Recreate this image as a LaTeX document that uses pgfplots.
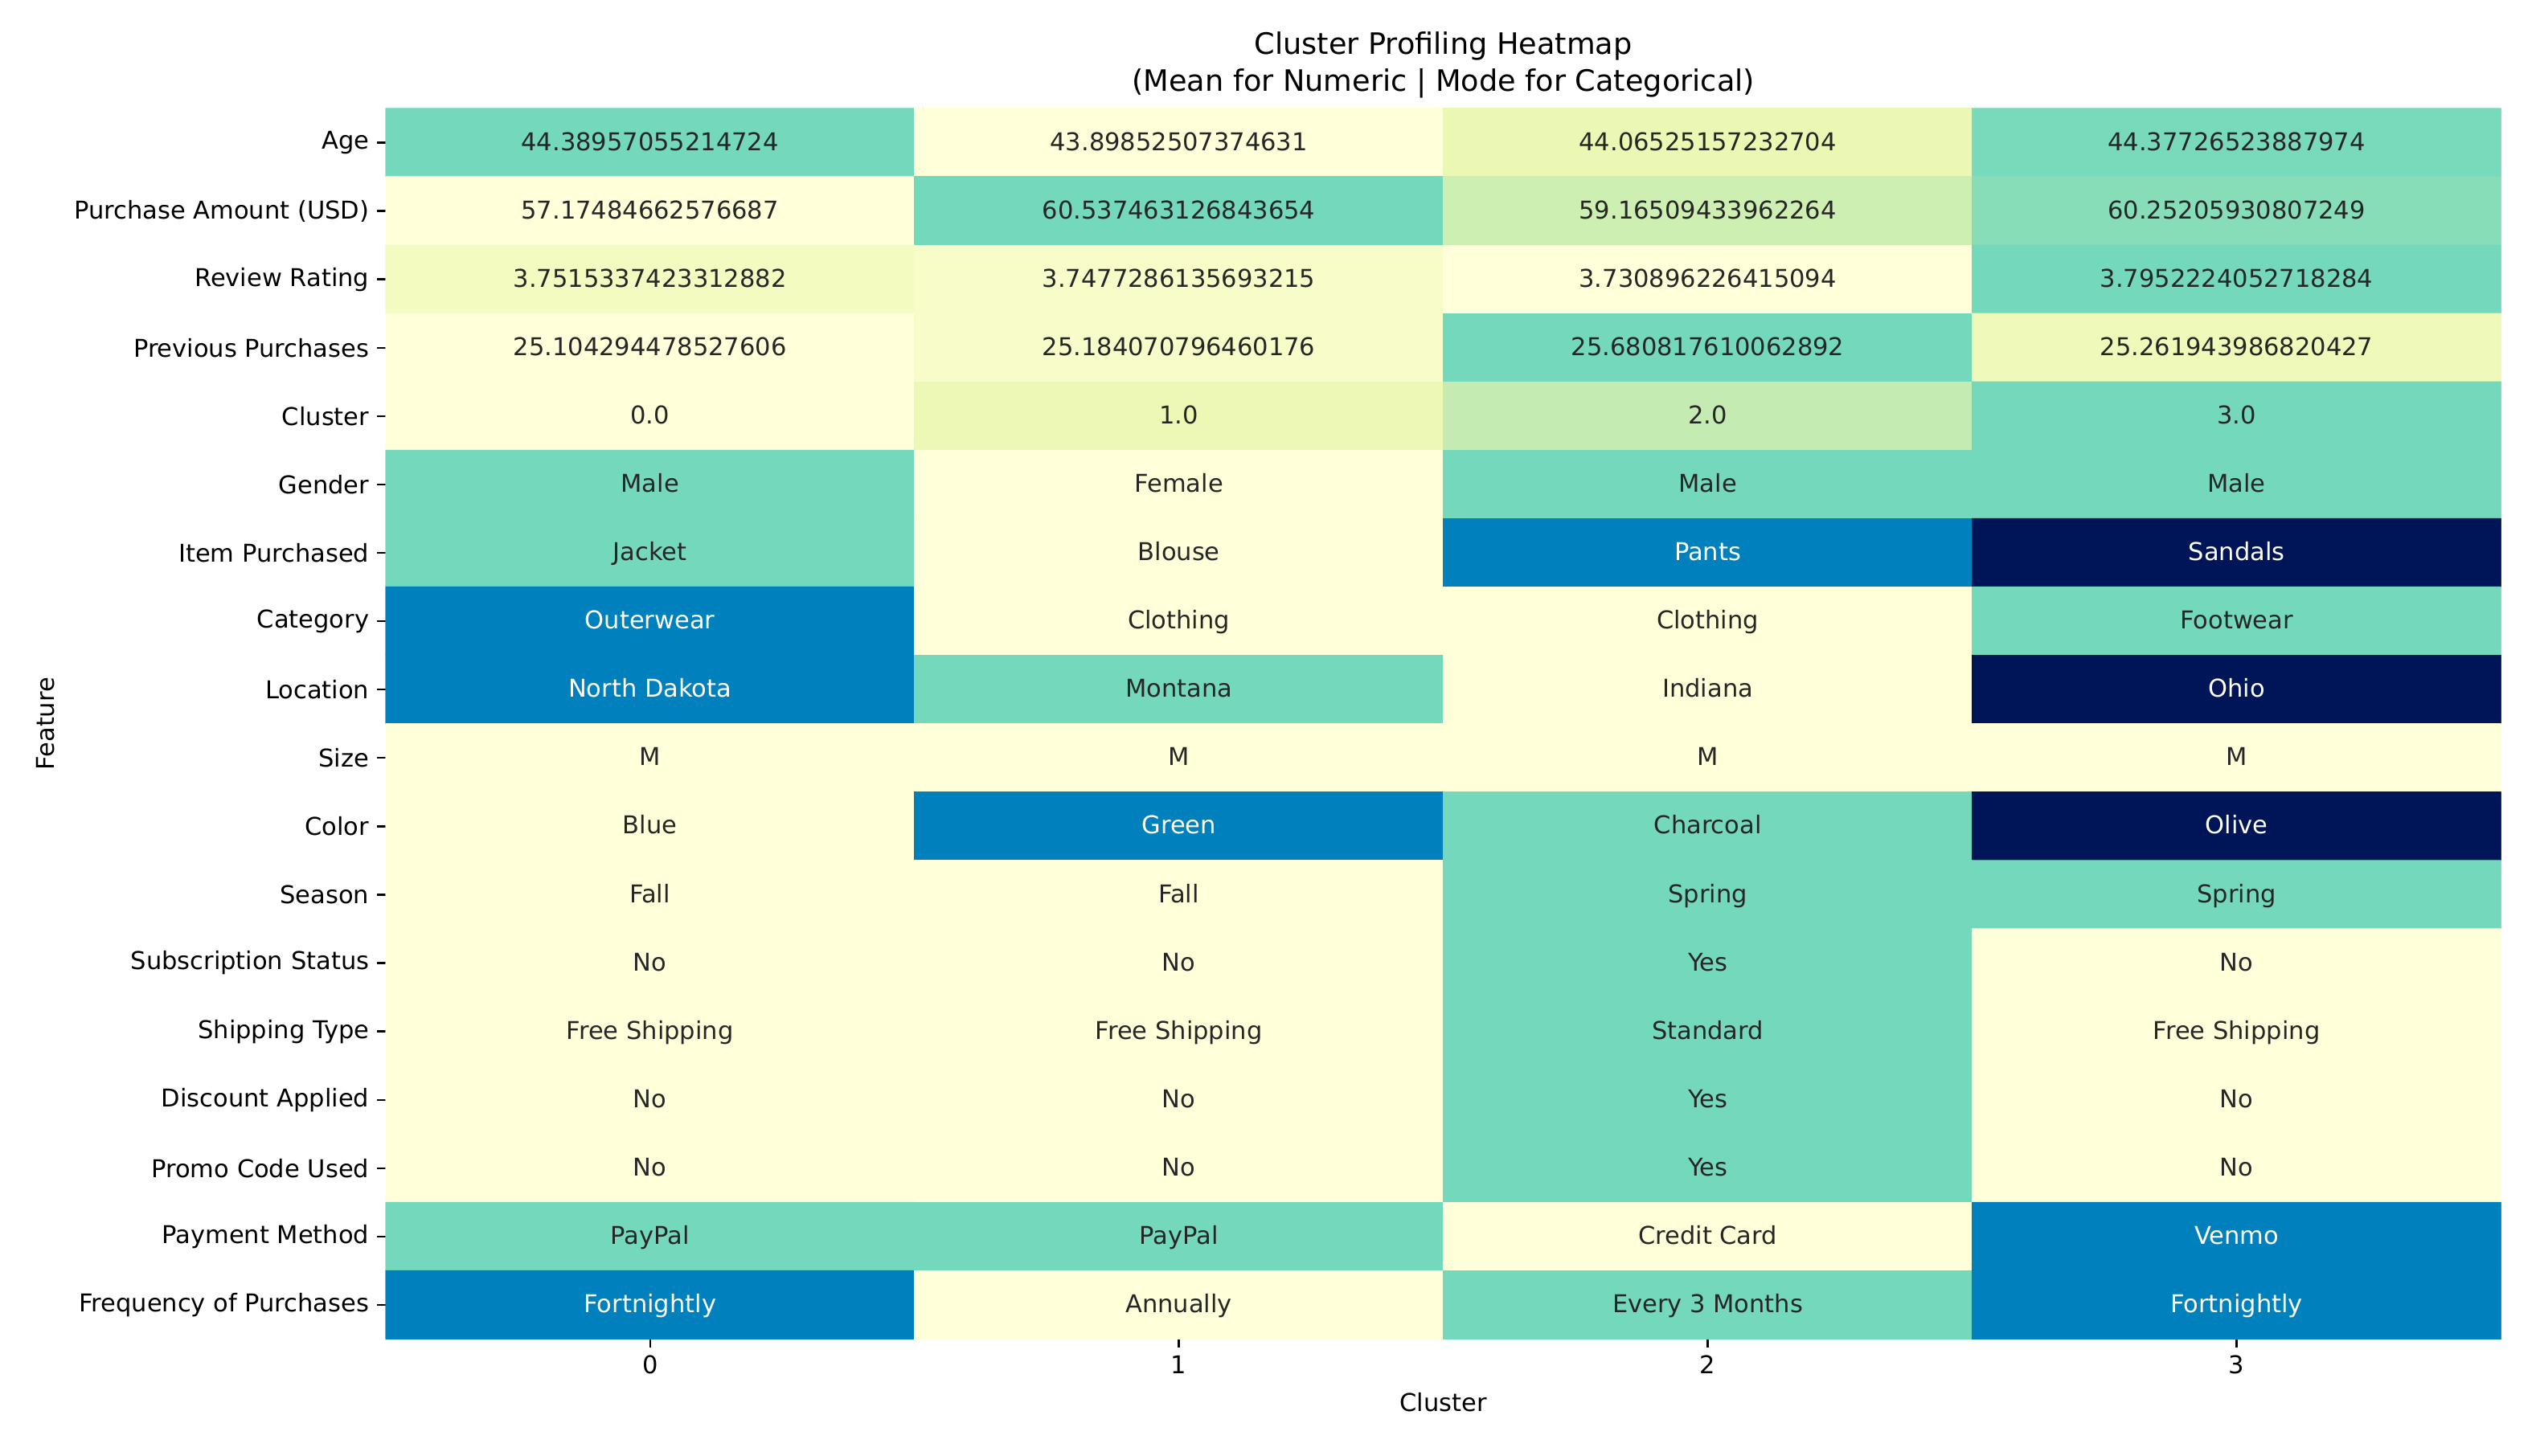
\documentclass[border=0pt]{standalone}
\usepackage{fontspec}
\setmainfont{DejaVu Sans}
\usepackage{pgfplots}
\pgfplotsset{compat=1.18}
\usepackage{pgfplotstable}

\pgfplotstableread[col sep=comma]{
x,y,c
0,0,1
1,0,0
2,0,0.34
3,0,0.975
0,1,0
1,1,1
2,1,0.592
3,1,0.915
0,2,0.207
1,2,0.145
2,2,0
3,2,1
0,3,0
1,3,0.138
2,3,1
3,3,0.273
0,4,0
1,4,0.333
2,4,0.667
3,4,1
0,5,1
1,5,0
2,5,1
3,5,1
0,6,1
1,6,0
2,6,2
3,6,3
0,7,2
1,7,0
2,7,0
3,7,1
0,8,2
1,8,1
2,8,0
3,8,3
0,9,0
1,9,0
2,9,0
3,9,0
0,10,0
1,10,2
2,10,1
3,10,3
0,11,0
1,11,0
2,11,1
3,11,1
0,12,0
1,12,0
2,12,1
3,12,0
0,13,0
1,13,0
2,13,1
3,13,0
0,14,0
1,14,0
2,14,1
3,14,0
0,15,0
1,15,0
2,15,1
3,15,0
0,16,1
1,16,1
2,16,0
3,16,2
0,17,2
1,17,0
2,17,1
3,17,2
}\heat

\pgfplotstableread[col sep=comma]{
x,y,label
0,0,44.38957055214724
1,0,43.89852507374631
2,0,44.06525157232704
3,0,44.37726523887974
0,1,57.17484662576687
1,1,60.537463126843654
2,1,59.16509433962264
3,1,60.25205930807249
0,2,3.7515337423312882
1,2,3.7477286135693215
2,2,3.730896226415094
3,2,3.7952224052718284
0,3,25.104294478527606
1,3,25.184070796460176
2,3,25.680817610062892
3,3,25.261943986820427
0,4,0.0
1,4,1.0
2,4,2.0
3,4,3.0
0,5,Male
1,5,Female
2,5,Male
3,5,Male
0,6,Jacket
1,6,Blouse
1,7,Clothing
2,7,Clothing
3,7,Footwear
1,8,Montana
2,8,Indiana
0,9,M
1,9,M
2,9,M
3,9,M
0,10,Blue
2,10,Charcoal
0,11,Fall
1,11,Fall
2,11,Spring
3,11,Spring
0,12,No
1,12,No
2,12,Yes
3,12,No
0,13,Free Shipping
1,13,Free Shipping
2,13,Standard
3,13,Free Shipping
0,14,No
1,14,No
2,14,Yes
3,14,No
0,15,No
1,15,No
2,15,Yes
3,15,No
0,16,PayPal
1,16,PayPal
2,16,Credit Card
1,17,Annually
2,17,Every 3 Months
}\darklabels

\pgfplotstableread[col sep=comma]{
x,y,label
2,6,Pants
3,6,Sandals
0,7,Outerwear
0,8,North Dakota
3,8,Ohio
1,10,Green
3,10,Olive
3,16,Venmo
0,17,Fortnightly
3,17,Fortnightly
}\whitelabels

\definecolor{annodark}{HTML}{262626}

\begin{document}
\begin{tikzpicture}
\useasboundingbox (-171.4pt,-51.8pt) rectangle (957.6pt,595.4pt);
\begin{axis}[
  at={(0pt,0pt)}, anchor=south west,
  scale only axis, width=940.3pt, height=547.2pt,
  xmin=-0.5, xmax=3.5, ymin=-0.5, ymax=17.5, y dir=reverse,
  axis line style={draw=none},
  xtick={0,1,2,3}, xticklabels={0,1,2,3},
  ytick={0,1,...,17},
  yticklabels={Age,Purchase Amount (USD),Review Rating,Previous Purchases,Cluster,Gender,Item Purchased,Category,Location,Size,Color,Season,Subscription Status,Shipping Type,Discount Applied,Promo Code Used,Payment Method,Frequency of Purchases},
  tick align=outside, tick pos=left, major tick length=3.8pt,
  tick style={black, line width=0.85pt},
  ticklabel style={font=\fontsize{10.9}{13}\selectfont, text=black},
  /pgf/number format/assume math mode=true,
  colormap={ygb}{rgb255(0)=(255,255,217) rgb255(1)=(236,248,179) rgb255(2)=(196,236,178) rgb255(3)=(115,216,188) rgb255(6)=(0,128,189) rgb255(9)=(0,21,88)},
  point meta min=0, point meta max=3,
  title={Cluster Profiling Heatmap\\(Mean for Numeric | Mode for Categorical)},
  title style={at={(axis description cs:0.5,1)}, anchor=south, yshift=-5pt, align=center, font=\fontsize{13.1}{16.6}\selectfont},
  xlabel={Cluster},
  xlabel style={at={(axis description cs:0.5,-0.0512)}, anchor=center, font=\fontsize{10.9}{13}\selectfont},
  ylabel={Feature},
  ylabel style={at={(axis description cs:-0.1606,0.5)}, anchor=center, rotate=0, font=\fontsize{10.9}{13}\selectfont},
]
\addplot[matrix plot*, mesh/cols=4, mesh/rows=18, point meta=explicit]
  table[x=x, y=y, meta=c] {\heat};
\addplot[draw=none, mark=none, point meta=explicit symbolic,
  nodes near coords, nodes near coords align=center,
  nodes near coords style={anchor=center, text=annodark, text height=8.5pt, text depth=1.6pt, font=\fontsize{10.9}{13}\selectfont}]
  table[x=x, y=y, meta=label] {\darklabels};
\addplot[draw=none, mark=none, point meta=explicit symbolic,
  nodes near coords, nodes near coords align=center,
  nodes near coords style={anchor=center, text=white, text height=8.5pt, text depth=1.6pt, font=\fontsize{10.9}{13}\selectfont}]
  table[x=x, y=y, meta=label] {\whitelabels};
\end{axis}
\end{tikzpicture}
\end{document}
